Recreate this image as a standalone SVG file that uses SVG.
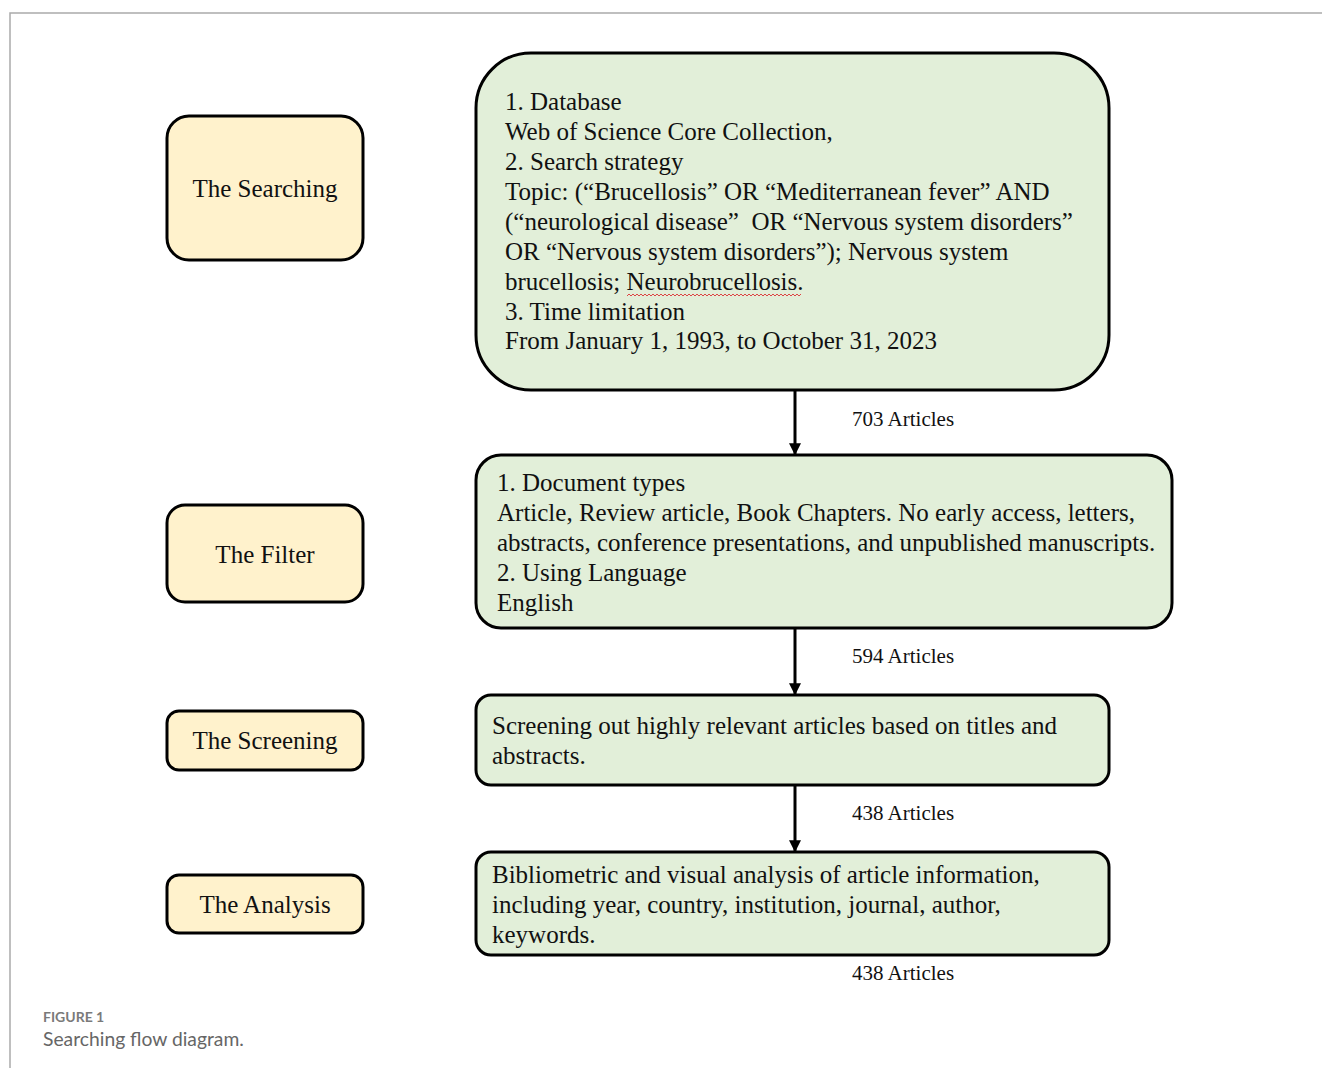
<svg xmlns="http://www.w3.org/2000/svg" width="1322" height="1068" viewBox="0 0 1322 1068">
<style>
.frame{stroke:#aaaaaa;stroke-width:1.5;fill:none}
.side{fill:#fff2cc;stroke:#000;stroke-width:3}
.main{fill:#e2efd9;stroke:#000;stroke-width:3}
.t{font-family:"Liberation Serif","Times New Roman",serif;font-size:25px;fill:#111}
.side-t{font-family:"Liberation Serif","Times New Roman",serif;font-size:25px;fill:#111;text-anchor:middle}
.lbl{font-family:"Liberation Serif","Times New Roman",serif;font-size:21px;fill:#111}
.edge{stroke:#000;stroke-width:3;fill:none;marker-end:url(#ah)}
.cap1{font-family:"Lato","Open Sans",sans-serif;font-size:14px;font-weight:bold;fill:#7a7a7a}
.cap2{font-family:"Lato","Open Sans",sans-serif;font-size:19.3px;fill:#666}
</style>
<defs>
<marker id="ah" viewBox="0 0 10 10" refX="9" refY="5" markerWidth="4" markerHeight="4" orient="auto" markerUnits="strokeWidth">
<path d="M0,0 L10,5 L0,10 z" fill="#000"/>
</marker>
</defs>
<rect width="1322" height="1068" fill="#fff"/>
<path class="frame" d="M10,1068 V13 H1322"/>

<g id="side-searching"><rect class="side" x="167" y="116" width="196" height="144" rx="22"/><text class="side-t" x="265" y="197">The Searching</text></g>
<g id="side-filter"><rect class="side" x="167" y="505" width="196" height="97" rx="18"/><text class="side-t" x="265" y="563">The Filter</text></g>
<g id="side-screening"><rect class="side" x="167" y="711" width="196" height="59" rx="12"/><text class="side-t" x="265" y="749">The Screening</text></g>
<g id="side-analysis"><rect class="side" x="167" y="875" width="196" height="58" rx="12"/><text class="side-t" x="265" y="913">The Analysis</text></g>

<g id="box-search">
<rect class="main" x="476" y="53" width="633" height="337" rx="55"/>
<text class="t" x="505" y="110">1. Database</text>
<text class="t" x="505" y="140">Web of Science Core Collection,</text>
<text class="t" x="505" y="170">2. Search strategy</text>
<text class="t" x="505" y="200">Topic: (“Brucellosis” OR “Mediterranean fever” AND</text>
<text class="t" x="505" y="230" xml:space="preserve">(“neurological disease”  OR “Nervous system disorders”</text>
<text class="t" x="505" y="260">OR “Nervous system disorders”); Nervous system</text>
<text class="t" x="505" y="290">brucellosis; Neurobrucellosis.</text>
<path d="M627,296 l2,-2 l2,2 l2,-2 l2,2 l2,-2 l2,2 l2,-2 l2,2 l2,-2 l2,2 l2,-2 l2,2 l2,-2 l2,2 l2,-2 l2,2 l2,-2 l2,2 l2,-2 l2,2 l2,-2 l2,2 l2,-2 l2,2 l2,-2 l2,2 l2,-2 l2,2 l2,-2 l2,2 l2,-2 l2,2 l2,-2 l2,2 l2,-2 l2,2 l2,-2 l2,2 l2,-2 l2,2 l2,-2 l2,2 l2,-2 l2,2 l2,-2 l2,2 l2,-2 l2,2 l2,-2 l2,2 l2,-2 l2,2 l2,-2 l2,2 l2,-2 l2,2 l2,-2 l2,2 l2,-2 l2,2 l2,-2 l2,2 l2,-2 l2,2 l2,-2 l2,2 l2,-2 l2,2 l2,-2 l2,2 l2,-2 l2,2 l2,-2 l2,2 l2,-2 l2,2 l2,-2 l2,2 l2,-2 l2,2 l2,-2 l2,2 l2,-2 l2,2 l2,-2 l2,2 l2,-2" stroke="#d44" stroke-width="1" fill="none"/>
<text class="t" x="505" y="320">3. Time limitation</text>
<text class="t" x="505" y="349">From January 1, 1993, to October 31, 2023</text>
</g>

<g id="box-filter">
<rect class="main" x="476" y="455" width="696" height="173" rx="25"/>
<text class="t" x="497" y="491">1. Document types</text>
<text class="t" x="497" y="521">Article, Review article, Book Chapters. No early access, letters,</text>
<text class="t" x="497" y="551">abstracts, conference presentations, and unpublished manuscripts.</text>
<text class="t" x="497" y="581">2. Using Language</text>
<text class="t" x="497" y="611">English</text>
</g>

<g id="box-screening">
<rect class="main" x="476" y="695" width="633" height="90" rx="15"/>
<text class="t" x="492" y="734">Screening out highly relevant articles based on titles and</text>
<text class="t" x="492" y="764">abstracts.</text>
</g>

<g id="box-analysis">
<rect class="main" x="476" y="852" width="633" height="103" rx="15"/>
<text class="t" x="492" y="883">Bibliometric and visual analysis of article information,</text>
<text class="t" x="492" y="913">including year, country, institution, journal, author,</text>
<text class="t" x="492" y="943">keywords.</text>
</g>

<g id="connectors">
<line class="edge" x1="795" y1="391" x2="795" y2="454"/>
<line class="edge" x1="795" y1="629" x2="795" y2="694"/>
<line class="edge" x1="795" y1="786" x2="795" y2="851"/>
</g>

<g id="labels">
<text class="lbl" x="852" y="426">703 Articles</text>
<text class="lbl" x="852" y="663">594 Articles</text>
<text class="lbl" x="852" y="820">438 Articles</text>
<text class="lbl" x="852" y="980">438 Articles</text>
</g>

<g id="caption">
<text class="cap1" x="43" y="1022">FIGURE 1</text>
<text class="cap2" x="43" y="1046">Searching flow diagram.</text>
</g>
</svg>
